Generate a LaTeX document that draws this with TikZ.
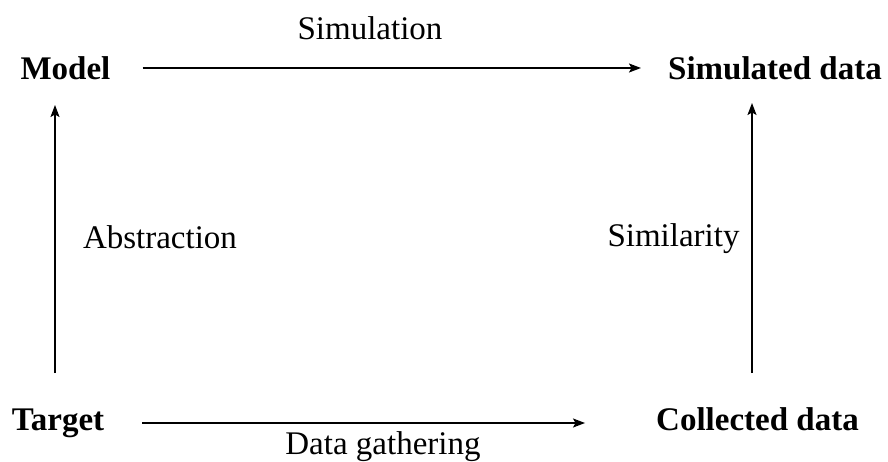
\documentclass[tikz,border=0pt]{standalone}
\usepackage{fontspec}
\setmainfont{Liberation Serif}
\usetikzlibrary{arrows.meta}
\begin{document}
\begin{tikzpicture}[x=1pt,y=-1pt,
  term/.style={inner sep=0pt,anchor=base,font=\fontsize{33}{40}\selectfont\bfseries},
  lbl/.style={inner sep=0pt,anchor=base,font=\fontsize{33}{40}\selectfont},
  arr/.style={line width=1.5pt,-{Stealth[length=12pt,width=9pt,inset=2.5pt]}}]
  \useasboundingbox (0,0) rectangle (888,462);
  % the four terms
  \node[term] (model)     at (65.5,80)  {Model};
  \node[term] (simdata)   at (775,80)   {Simulated data};
  \node[term] (target)    at (58,430)   {Target};
  \node[term] (collected) at (757.5,430) {Collected data};
  % edge labels
  \node[lbl] (simulation)  at (370,40)    {Simulation};
  \node[lbl] (gathering)   at (383,454)   {Data gathering};
  \node[lbl] (abstraction) at (160,248)   {Abstraction};
  \node[lbl] (similarity)  at (673.5,247) {Similarity};
  % connectors
  \draw[arr] ([xshift=32pt,yshift=12pt]model.base east) -- ([xshift=-27pt,yshift=12pt]simdata.base west);
  \draw[arr] ([xshift=38pt,yshift=7pt]target.base east) -- ([xshift=-71pt,yshift=7pt]collected.base west);
  \draw[arr] ([xshift=-3pt,yshift=57pt]target.base) -- ([xshift=-10.5pt,yshift=-25pt]model.base);
  \draw[arr] ([xshift=-5.5pt,yshift=57pt]collected.base) -- ([xshift=-23pt,yshift=-23pt]simdata.base);
\end{tikzpicture}
\end{document}
